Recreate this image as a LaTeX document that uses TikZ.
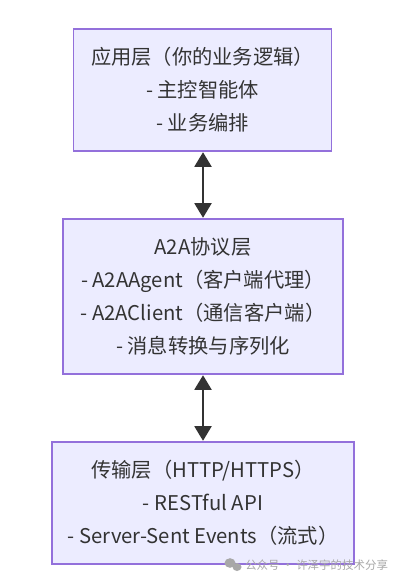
\documentclass[tikz,border=0pt]{standalone}
\usepackage{fontspec}
\setmainfont{Noto Sans CJK SC}
\usetikzlibrary{arrows.meta}
\definecolor{boxfill}{HTML}{ECECFF}
\definecolor{boxline}{HTML}{9370DB}
\definecolor{txt}{HTML}{333333}
\definecolor{wm}{HTML}{A8A8A8}
\begin{document}
\begin{tikzpicture}[x=0.75pt,y=-0.75pt,
  layerbox/.style={draw=boxline,fill=boxfill,line width=0.9pt,inner sep=0pt,align=center,text=txt,
    font=\fontsize{15.2}{24.75}\selectfont},
  biarrow/.style={draw=txt,line width=2.2pt,{Triangle[length=11pt,width=12.5pt]}-{Triangle[length=11pt,width=12.5pt]},shorten <=0.4pt,shorten >=0.4pt}]
\useasboundingbox (0,0) rectangle (405,581);
\fill[white] (0,0) rectangle (405,581);
\node[layerbox,minimum width=258*0.75pt,minimum height=122*0.75pt] (app) at (202.5,90)
  {应用层（你的业务逻辑）\\- 主控智能体\\- 业务编排};
\node[layerbox,minimum width=280*0.75pt,minimum height=155*0.75pt] (proto) at (203,296.5)
  {A2A协议层\\- A2AAgent（客户端代理）\\- A2AClient（通信客户端）\\- 消息转换与序列化};
\node[layerbox,minimum width=302*0.75pt,minimum height=122*0.75pt] (trans) at (203,503)
  {传输层（HTTP/HTTPS）\\- RESTful API\\- Server-Sent Events（流式）};
\draw[biarrow] (app.south -| 203,0) -- (proto.north -| 203,0);
\draw[biarrow] (proto.south) -- (trans.north);
\fill[wm] (230,563) ellipse (5.5 and 4.8);
\fill[wm] (237,567) ellipse (4.5 and 4);
\node[text=wm,font=\fontsize{8.6}{10}\selectfont,anchor=west,inner sep=0pt] (mark) at (245,565) {公众号 · 许泽宇的技术分享};
\end{tikzpicture}
\end{document}
